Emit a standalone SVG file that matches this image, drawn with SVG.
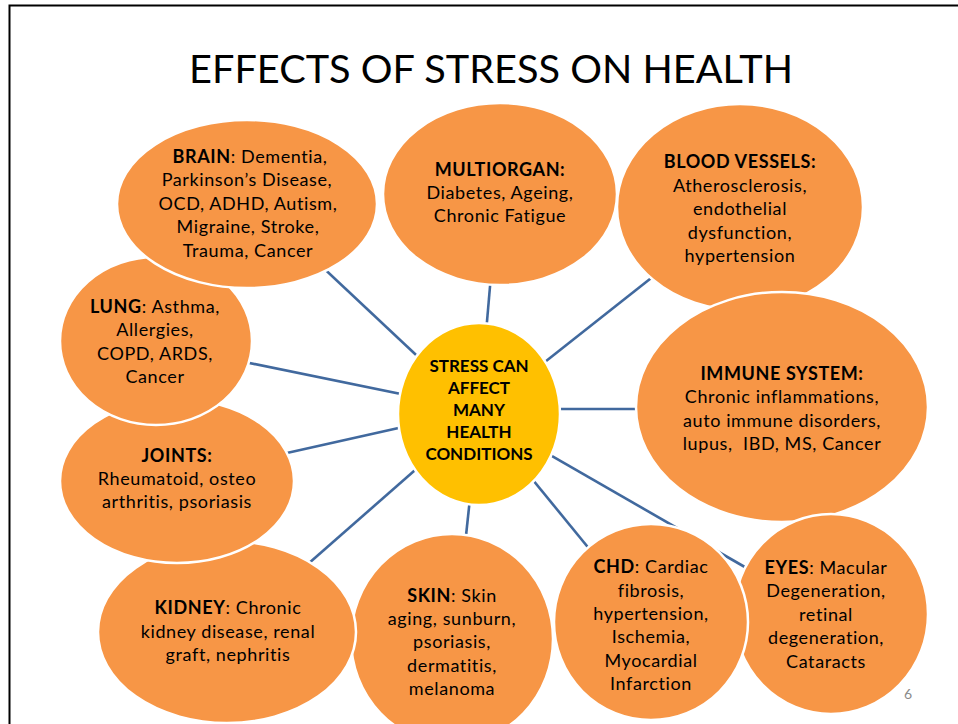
<svg xmlns="http://www.w3.org/2000/svg" width="958" height="724" viewBox="0 0 958 724">
<style>
.n{fill:#F79646;stroke:#FFFFFF;stroke-width:2.5}
.c{fill:#FFC000;stroke:#FFFFFF;stroke-width:2.5}
.t{font-family:Lato,"Liberation Sans",sans-serif;font-size:18px;letter-spacing:0.6px;fill:#000;text-anchor:middle;font-variant-ligatures:none}
.b{font-weight:bold}
.ct{font-size:17px;letter-spacing:0px}
.e line{stroke:#41699E;stroke-width:2.6}
</style>
<rect width="958" height="724" fill="#FFFFFF"/>
<rect x="9.5" y="5.5" width="1000" height="800" fill="none" stroke="#000" stroke-width="2"/>
<text x="491" y="83" font-family="Lato,'Liberation Sans',sans-serif" font-size="39" text-anchor="middle" textLength="604" lengthAdjust="spacingAndGlyphs">EFFECTS OF STRESS ON HEALTH</text>
<g id="connectors" class="e">
<line x1="479" y1="414" x2="300" y2="246"/>
<line x1="479" y1="414" x2="491" y2="275"/>
<line x1="479" y1="414" x2="655" y2="275"/>
<line x1="479" y1="409" x2="660" y2="409"/>
<line x1="479" y1="410" x2="230" y2="359"/>
<line x1="479" y1="410" x2="260" y2="459"/>
<line x1="479" y1="414" x2="300" y2="571"/>
<line x1="479" y1="414" x2="465" y2="545"/>
<line x1="479" y1="414" x2="600" y2="562"/>
<line x1="479" y1="414" x2="750" y2="570"/>
</g>
<g id="multiorgan">
<ellipse class="n" cx="500" cy="194" rx="117" ry="91"/>
<text class="t"><tspan class="b" x="500" y="176">MULTIORGAN:</tspan><tspan x="500" y="199">Diabetes, Ageing,</tspan><tspan x="500" y="222">Chronic Fatigue</tspan></text>
</g>
<g id="bloodvessels">
<ellipse class="n" cx="740" cy="207" rx="123" ry="103"/>
<text class="t"><tspan class="b" x="740" y="168">BLOOD VESSELS:</tspan><tspan x="740" y="192">Atherosclerosis,</tspan><tspan x="740" y="215">endothelial</tspan><tspan x="740" y="239">dysfunction,</tspan><tspan x="740" y="262">hypertension</tspan></text>
</g>
<g id="immune">
<ellipse class="n" cx="782" cy="407" rx="146" ry="115"/>
<text class="t"><tspan class="b" x="782" y="380">IMMUNE SYSTEM:</tspan><tspan x="782" y="403">Chronic inflammations,</tspan><tspan x="782" y="427">auto immune disorders,</tspan><tspan x="782" y="450" xml:space="preserve">lupus,  IBD, MS, Cancer</tspan></text>
</g>
<g id="eyes">
<ellipse class="n" cx="831" cy="614" rx="97" ry="100"/>
<text class="t"><tspan x="826" y="574"><tspan class="b">EYES</tspan>: Macular</tspan><tspan x="826" y="597">Degeneration,</tspan><tspan x="826" y="621">retinal</tspan><tspan x="826" y="644">degeneration,</tspan><tspan x="826" y="668">Cataracts</tspan></text>
</g>
<g id="chd">
<ellipse class="n" cx="651" cy="622" rx="97" ry="98"/>
<text class="t"><tspan x="651" y="573"><tspan class="b">CHD</tspan>: Cardiac</tspan><tspan x="651" y="597">fibrosis,</tspan><tspan x="651" y="620">hypertension,</tspan><tspan x="651" y="643">Ischemia,</tspan><tspan x="651" y="667">Myocardial</tspan><tspan x="651" y="690">Infarction</tspan></text>
</g>
<g id="skin">
<ellipse class="n" cx="452" cy="639" rx="101" ry="105"/>
<text class="t"><tspan x="452" y="602"><tspan class="b">SKIN</tspan>: Skin</tspan><tspan x="452" y="625">aging, sunburn,</tspan><tspan x="452" y="648">psoriasis,</tspan><tspan x="452" y="672">dermatitis,</tspan><tspan x="452" y="695">melanoma</tspan></text>
</g>
<g id="kidney">
<ellipse class="n" cx="227" cy="632" rx="129" ry="91"/>
<text class="t"><tspan x="228" y="614"><tspan class="b">KIDNEY</tspan>: Chronic</tspan><tspan x="228" y="638">kidney disease, renal</tspan><tspan x="228" y="661">graft, nephritis</tspan></text>
</g>
<g id="joints">
<ellipse class="n" cx="177" cy="481" rx="117" ry="82"/>
<text class="t"><tspan class="b" x="177" y="462">JOINTS:</tspan><tspan x="177" y="485">Rheumatoid, osteo</tspan><tspan x="177" y="508">arthritis, psoriasis</tspan></text>
</g>
<g id="lung">
<ellipse class="n" cx="156" cy="341" rx="96" ry="84"/>
<text class="t"><tspan x="155" y="313"><tspan class="b">LUNG</tspan>: Asthma,</tspan><tspan x="155" y="336">Allergies,</tspan><tspan x="155" y="360">COPD, ARDS,</tspan><tspan x="155" y="383">Cancer</tspan></text>
</g>
<g id="brain">
<ellipse class="n" cx="247" cy="204" rx="130" ry="84"/>
<text class="t"><tspan x="250" y="163"><tspan class="b">BRAIN</tspan>: Dementia,</tspan><tspan x="247" y="186">Parkinson’s Disease,</tspan><tspan x="248" y="210">OCD, ADHD, Autism,</tspan><tspan x="248" y="233">Migraine, Stroke,</tspan><tspan x="248" y="257">Trauma, Cancer</tspan></text>
</g>
<g id="center">
<ellipse class="c" cx="479" cy="414" rx="81" ry="91"/>
<text class="t b ct"><tspan x="479" y="372">STRESS CAN</tspan><tspan x="479" y="394">AFFECT</tspan><tspan x="479" y="416">MANY</tspan><tspan x="479" y="438">HEALTH</tspan><tspan x="479" y="460">CONDITIONS</tspan></text>
</g>
<text x="908" y="699" font-family="Lato,'Liberation Sans',sans-serif" font-size="14" fill="#8A8A8A" text-anchor="middle">6</text>
</svg>
